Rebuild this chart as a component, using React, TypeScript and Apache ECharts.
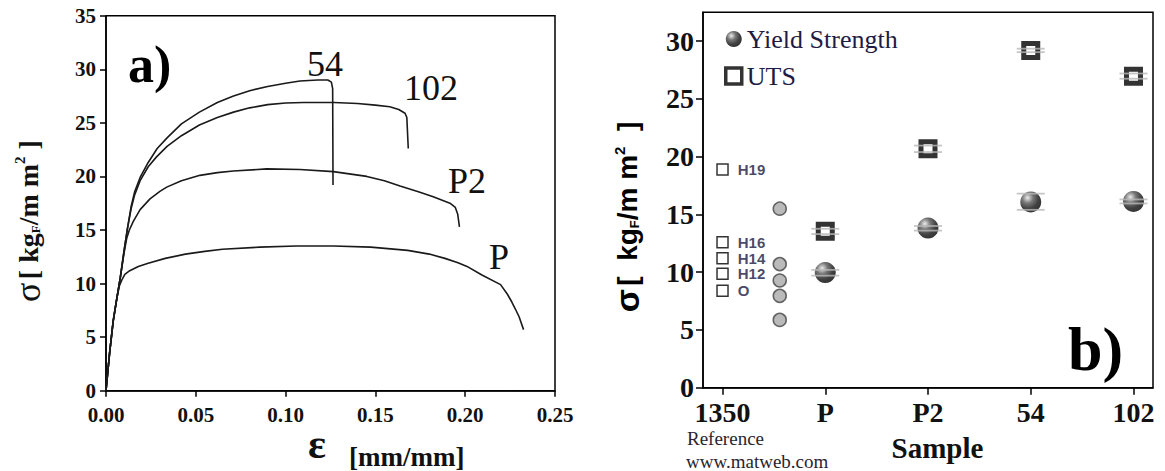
import React, { useEffect, useRef } from "react";
import * as echarts from "echarts";

// ---------- Panel a: stress-strain curves [strain, stress] ----------
const curve54: [number, number][] = [
  [0, 0], [0.002, 3.5], [0.004, 6.5], [0.006, 8.6], [0.008, 10.6], [0.01, 13.0], [0.012, 15.2],
  [0.014, 17.2], [0.016, 18.6], [0.019, 19.9], [0.0235, 21.3], [0.0285, 22.6], [0.034, 23.6],
  [0.042, 24.9], [0.052, 26.0], [0.062, 26.9], [0.071, 27.5], [0.08, 28.0], [0.09, 28.4],
  [0.1, 28.7], [0.108, 28.9], [0.118, 29.0], [0.1235, 29.0], [0.1255, 28.8], [0.1262, 28.2], [0.1264, 19.2],
];
const curve102: [number, number][] = [
  [0, 0], [0.002, 3.5], [0.004, 6.5], [0.006, 8.6], [0.008, 10.6], [0.01, 13.0], [0.012, 15.2],
  [0.014, 17.0], [0.016, 18.3], [0.019, 19.6], [0.0235, 20.9], [0.028, 21.8], [0.034, 22.8],
  [0.042, 23.8], [0.052, 24.8], [0.062, 25.5], [0.071, 26.0], [0.08, 26.4], [0.09, 26.7],
  [0.1, 26.85], [0.11, 26.9], [0.127, 26.9], [0.14, 26.8], [0.15, 26.65], [0.158, 26.5],
  [0.163, 26.25], [0.1665, 25.9], [0.1675, 25.5], [0.1683, 22.6],
];
const curveP2: [number, number][] = [
  [0, 0], [0.002, 3.5], [0.004, 6.5], [0.006, 8.6], [0.008, 10.6], [0.01, 12.8], [0.0115, 14.2],
  [0.013, 15.0], [0.0152, 15.8], [0.019, 16.9], [0.0245, 17.9], [0.03, 18.6], [0.0338, 19.0],
  [0.042, 19.6], [0.0523, 20.1], [0.062, 20.35], [0.0709, 20.5], [0.0895, 20.7], [0.108, 20.65],
  [0.1266, 20.45], [0.1452, 20.0], [0.155, 19.6], [0.1637, 19.1], [0.1735, 18.6], [0.1822, 18.1],
  [0.1915, 17.5], [0.1945, 17.1], [0.1958, 16.5], [0.1968, 15.3],
];
const curveP: [number, number][] = [
  [0, 0], [0.002, 3.5], [0.004, 6.5], [0.006, 8.6], [0.0075, 9.8], [0.009, 10.4], [0.0105, 10.85],
  [0.0132, 11.2], [0.018, 11.6], [0.0235, 11.9], [0.033, 12.35], [0.0442, 12.75], [0.055, 13.0],
  [0.0648, 13.2], [0.0855, 13.4], [0.106, 13.5], [0.1267, 13.5], [0.1474, 13.4], [0.168, 13.1],
  [0.18, 12.75], [0.1887, 12.35], [0.196, 11.95], [0.201, 11.6], [0.2093, 10.8], [0.2197, 9.9],
  [0.2235, 9.0], [0.2259, 8.3], [0.228, 7.6], [0.23, 6.9], [0.2325, 5.7],
];
const curveNames = ["54", "102", "P2", "P"];
const strainTicks = [0, 0.05, 0.1, 0.15, 0.2, 0.25];

// ---------- Panel b: sample strengths ----------
const samples = ["1350", "P", "P2", "54", "102"];
const sampleIdx = [1, 2, 3, 4];
const yieldStrength = [9.97, 13.82, 16.08, 16.13];
const yieldLow = [9.7, 13.6, 15.4, 15.95];
const yieldHigh = [10.2, 14.0, 16.8, 16.3];
const uts = [13.55, 20.68, 29.2, 26.97];
const utsLow = [13.3, 20.4, 29.05, 26.75];
const utsHigh = [13.76, 20.96, 29.35, 27.2];
const refUtsNames = ["H19", "H16", "H14", "H12", "O"];
const refUts = [18.9, 12.6, 11.2, 9.86, 8.4];
const refYieldPos = 0.557;
const refYield = [15.5, 10.7, 9.28, 7.95, 5.87];
const stressTicksB = [0, 5, 10, 15, 20, 25, 30];

const SERIF = "'Liberation Serif', 'DejaVu Serif', serif";
const SANS = "'Liberation Sans', Arial, sans-serif";
const INK = "#111";

export default function App() {
  const ref = useRef<HTMLDivElement>(null);
  useEffect(() => {
    if (!ref.current) return;
    const chart = echarts.init(ref.current, null, { renderer: "svg" });
    const sphere = new echarts.graphic.RadialGradient(0.35, 0.3, 0.75, [
      { offset: 0, color: "#e8e8e8" },
      { offset: 0.35, color: "#555" },
      { offset: 0.7, color: "#111" },
      { offset: 1, color: "#000" },
    ]);
    const curves = [curve54, curve102, curveP2, curveP];
    const lineSeries = curves.map((c, i) => ({
      type: "line",
      name: curveNames[i],
      xAxisIndex: 0,
      yAxisIndex: 0,
      data: c,
      showSymbol: false,
      symbol: "none",
      lineStyle: { color: "#1a1a1a", width: 1.6 },
      z: 2,
    }));
    const errSeries = (vals: number[]) => ({
      type: "scatter",
      xAxisIndex: 1,
      yAxisIndex: 1,
      data: sampleIdx.map((x, i) => [x, vals[i]]),
      symbol: "rect",
      symbolSize: [28, 1.8],
      itemStyle: { color: "#b8b8b8" },
      z: 5,
      silent: true,
    });
    const option: any = {
      animation: false,
      backgroundColor: "#fff",
      grid: [
        { left: 106, top: 15.7, width: 449, height: 375, show: true, borderColor: "#000", borderWidth: 1.5, backgroundColor: "transparent" },
        { left: 703, top: 12.3, width: 450, height: 375.4, show: true, borderColor: "#000", borderWidth: 1.5, backgroundColor: "transparent" },
      ],
      xAxis: [
        {
          type: "value", gridIndex: 0, min: 0, max: 0.25, interval: 0.05,
          axisLine: { lineStyle: { color: "#000", width: 1.5 } },
          axisTick: { length: 6, lineStyle: { color: "#000", width: 1.5 } },
          axisLabel: { fontFamily: SERIF, fontWeight: "bold", fontSize: 21, color: INK, margin: 14, formatter: (v: number) => v.toFixed(2), customValues: strainTicks },
          splitLine: { show: false },
        },
        {
          type: "value", gridIndex: 1, min: -0.19, max: 4.19,
          axisLine: { onZero: false, lineStyle: { color: "#000", width: 1.5 } },
          axisTick: { length: 7, lineStyle: { color: "#000", width: 1.5 }, customValues: [0, 1, 2, 3, 4] },
          axisLabel: { fontFamily: SERIF, fontWeight: "bold", fontSize: 28, color: INK, margin: 11, customValues: [0, 1, 2, 3, 4], formatter: (v: number) => samples[Math.round(v)] },
          splitLine: { show: false },
          name: "Sample", nameLocation: "middle", nameGap: 46,
          nameTextStyle: { fontFamily: SERIF, fontWeight: "bold", fontSize: 29, color: INK, padding: [0, 0, 0, 19] },
        },
      ],
      yAxis: [
        {
          type: "value", gridIndex: 0, min: 0, max: 35, interval: 5,
          axisLine: { onZero: false, lineStyle: { color: "#000", width: 1.5 } },
          axisTick: { length: 6, lineStyle: { color: "#000", width: 1.5 } },
          axisLabel: { fontFamily: SERIF, fontWeight: "bold", fontSize: 21, color: INK, margin: 10 },
          splitLine: { show: false },
        },
        {
          type: "value", gridIndex: 1, min: 0, max: 32.5,
          axisLine: { onZero: false, lineStyle: { color: "#000", width: 1.5 } },
          axisTick: { length: 7, lineStyle: { color: "#000", width: 1.5 }, customValues: stressTicksB },
          axisLabel: { fontFamily: SERIF, fontWeight: "bold", fontSize: 28, color: INK, margin: 9, customValues: stressTicksB },
          splitLine: { show: false },
        },
      ],
      legend: {
        data: [
          { name: "Yield Strength" },
          { name: "UTS", itemStyle: { color: "#fff", borderColor: "#000", borderWidth: 3.5 } },
        ],
        orient: "vertical",
        left: 719,
        top: 21,
        itemGap: 11,
        itemWidth: 16,
        itemHeight: 16,
        textStyle: { fontFamily: SERIF, fontSize: 26, color: "#1e1b45" },
        selectedMode: false,
      },
      series: [
        ...lineSeries,
        {
          type: "scatter", name: "Reference UTS", xAxisIndex: 1, yAxisIndex: 1,
          data: refUts.map((v) => [0, v]),
          symbol: "rect", symbolSize: 11,
          itemStyle: { color: "#fff", borderColor: "#000", borderWidth: 1.5 },
          label: {
            show: true, position: "right", distance: 9,
            formatter: (p: any) => refUtsNames[p.dataIndex],
            fontFamily: SANS, fontWeight: "bold", fontSize: 15, color: "#1a1740",
          },
        },
        {
          type: "scatter", name: "Reference YS", xAxisIndex: 1, yAxisIndex: 1,
          data: refYield.map((v) => [refYieldPos, v]),
          symbol: "circle", symbolSize: 13,
          itemStyle: { color: "#a9a9a9", borderColor: "#444", borderWidth: 1.5 },
        },
        {
          type: "scatter", name: "Yield Strength", xAxisIndex: 1, yAxisIndex: 1,
          data: sampleIdx.map((x, i) => [x, yieldStrength[i]]),
          symbol: "circle", symbolSize: 21,
          itemStyle: { color: sphere },
          z: 3,
        },
        {
          type: "scatter", name: "UTS", xAxisIndex: 1, yAxisIndex: 1,
          data: sampleIdx.map((x, i) => [x, uts[i]]),
          symbol: "rect", symbolSize: 14,
          itemStyle: { color: "#fff", borderColor: "#000", borderWidth: 5 },
          z: 3,
        },
        errSeries(yieldLow), errSeries(yieldHigh), errSeries(utsLow), errSeries(utsHigh),
      ],
      graphic: [
        { type: "text", left: 128, top: 38, style: { text: "a)", font: `bold 52px ${SERIF}`, fill: "#000" } },
        { type: "text", x: 325, y: 64, style: { text: curveNames[0], font: `36px ${SERIF}`, fill: "#111", align: "center", verticalAlign: "middle" } },
        { type: "text", x: 431, y: 88, style: { text: curveNames[1], font: `36px ${SERIF}`, fill: "#111", align: "center", verticalAlign: "middle" } },
        { type: "text", x: 467, y: 181, style: { text: curveNames[2], font: `36px ${SERIF}`, fill: "#111", align: "center", verticalAlign: "middle" } },
        { type: "text", x: 499, y: 257, style: { text: curveNames[3], font: `36px ${SERIF}`, fill: "#111", align: "center", verticalAlign: "middle" } },
        { type: "text", x: 308, y: 444, style: { text: "ε", font: `bold 42px ${SERIF}`, fill: "#111", verticalAlign: "middle", lineHeight: 28 } },
        { type: "text", x: 349, y: 457, style: { text: "[mm/mm]", font: `bold 27px ${SERIF}`, fill: "#111", verticalAlign: "middle", lineHeight: 26 } },
        {
          type: "text", x: 28, y: 221, rotation: Math.PI / 2,
          style: {
            text: "{s|σ} {t|[ kg}{sub|F}{t|/m m}{sup|2}{t| ]}",
            align: "center", verticalAlign: "middle",
            rich: {
              s: { fontFamily: SERIF, fontSize: 36, fill: "#111" },
              t: { fontFamily: SERIF, fontWeight: "bold", fontSize: 28, fill: "#111" },
              sub: { fontFamily: SERIF, fontWeight: "bold", fontSize: 13, fill: "#111", padding: [14, 0, 0, 0] },
              sup: { fontFamily: SERIF, fontWeight: "bold", fontSize: 15, fill: "#111", padding: [0, 0, 16, 0] },
            },
          },
        },
        {
          type: "text", x: 627, y: 217, rotation: Math.PI / 2,
          style: {
            text: "{s|σ} {t|[  kg}{sub|F}{t|/m m}{sup|2}{t|  ]}",
            align: "center", verticalAlign: "middle",
            rich: {
              s: { fontFamily: SANS, fontWeight: "bold", fontSize: 34, fill: "#000" },
              t: { fontFamily: SANS, fontWeight: "bold", fontSize: 28, fill: "#000" },
              sub: { fontFamily: SANS, fontWeight: "bold", fontSize: 13, fill: "#000", padding: [14, 0, 0, 0] },
              sup: { fontFamily: SANS, fontWeight: "bold", fontSize: 15, fill: "#000", padding: [0, 0, 16, 0] },
            },
          },
        },
        { type: "text", left: 1068, top: 318, style: { text: "b)", font: `bold 62px ${SERIF}`, fill: "#000" } },
        { type: "text", x: 687, y: 438, style: { text: "Reference", font: `19px ${SERIF}`, fill: "#2a2430", verticalAlign: "middle" } },
        { type: "text", x: 686, y: 461, style: { text: "www.matweb.com", font: `19px ${SERIF}`, fill: "#2a2430", verticalAlign: "middle", lineHeight: 19 } },
      ],
    };
    chart.setOption(option);
    return () => chart.dispose();
  }, []);
  return (
    <div
      ref={ref}
      style={{ position: "fixed", left: 0, top: 0, width: 1165, height: 471, background: "#fff" }}
    />
  );
}
